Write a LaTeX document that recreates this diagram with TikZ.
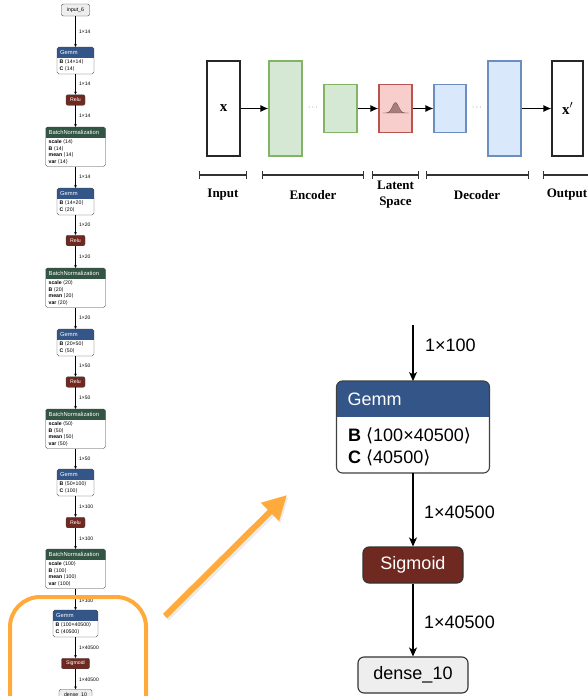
\documentclass[tikz,border=0pt]{standalone}
\usepackage{fontspec}
\setmainfont{Liberation Sans}
\newfontfamily\tnr{Liberation Serif}
\newfontfamily\dvs{DejaVu Sans}
\usetikzlibrary{arrows.meta}
\definecolor{gemmc}{RGB}{51,85,136}
\definecolor{normc}{RGB}{51,85,68}
\definecolor{actc}{RGB}{112,41,33}
\definecolor{ioc}{RGB}{238,238,238}
\definecolor{orangec}{RGB}{255,170,59}
\definecolor{encf}{HTML}{D5E8D4}
\definecolor{encd}{HTML}{82B366}
\definecolor{decf}{HTML}{DAE8FC}
\definecolor{decd}{HTML}{6C8EBF}
\definecolor{latf}{HTML}{F8CECC}
\definecolor{latd}{HTML}{B85450}
\definecolor{gaussf}{RGB}{170,125,125}
\definecolor{gaussd}{RGB}{120,70,70}
\newcommand\abra{{\dvs\char"27E8}}
\newcommand\aket{{\dvs\char"27E9}}
% layer node with coloured header: name, x, top, width, header h, body h, colour, title
\newcommand\netlayer[8]{%
  \node[minimum width=#4pt, minimum height=#5pt+#6pt, anchor=north, inner sep=0pt, outer sep=0pt] (#1) at (#2,#3) {};
  \begin{scope}
    \clip[rounded corners=\netR] (#1.north west) rectangle (#1.south east);
    \fill[white] (#1.north west) rectangle (#1.south east);
    \fill[#7] (#1.north west) rectangle ([yshift=-#5pt]#1.north east);
  \end{scope}
  \draw[rounded corners=\netR, line width=\netLW, draw=black!75] (#1.north west) rectangle (#1.south east);
  \node[anchor=west, text=white, font=\netTF, inner sep=0pt] (#1-t) at ([xshift=\netPad, yshift=-#5pt/2]#1.north west) {#8};
}
\newcommand\sgemm[5]{%
  \netlayer{#1}{75.5}{#2}{#5}{11}{16}{gemmc}{Gemm}
  \node[sbody] (#1-l1) at ({75.5-#5/2+2.5},{#2+16.8}) {\textbf{B} \abra#3\aket};
  \node[sbody] (#1-l2) at ({75.5-#5/2+2.5},{#2+23.8}) {\textbf{C} \abra#4\aket};
}
\newcommand\sbn[3]{%
  \netlayer{#1}{75.5}{#2}{60}{11}{28.5}{normc}{BatchNormalization}
  \node[sbody] (#1-l1) at (48.5,{#2+16.8}) {\textbf{scale} \abra#3\aket};
  \node[sbody] (#1-l2) at (48.5,{#2+23.3}) {\textbf{B} \abra#3\aket};
  \node[sbody] (#1-l3) at (48.5,{#2+29.8}) {\textbf{mean} \abra#3\aket};
  \node[sbody] (#1-l4) at (48.5,{#2+36.3}) {\textbf{var} \abra#3\aket};
}
\begin{document}
\begin{tikzpicture}[x=1pt,y=-1pt]
\tikzset{
  sedge/.style={-{Stealth[length=3pt,width=2.6pt]}, line width=0.4pt, black},
  slabel/.style={anchor=west, inner sep=0pt, font=\fontsize{5}{6}\selectfont},
  sbody/.style={anchor=base west, inner sep=0pt, font=\fontsize{5.2}{6}\selectfont},
  sact/.style={fill=actc, draw=black!75, line width=0.4pt, rounded corners=2pt, text=white, inner sep=0pt, font=\fontsize{5.2}{6}\selectfont, minimum height=10.5pt, minimum width=19pt},
  sio/.style={fill=ioc, draw=black!75, line width=0.4pt, rounded corners=2pt, inner sep=0pt, font=\fontsize{5.2}{6}\selectfont, minimum height=12pt},
  bedge/.style={-{Stealth[length=9pt,width=8pt,inset=2.5pt]}, line width=1.1pt, black},
  blabel/.style={anchor=west, inner sep=0pt, font=\fontsize{18}{20}\selectfont},
  bbody/.style={anchor=base west, inner sep=0pt, font=\fontsize{18}{20}\selectfont},
  bact/.style={fill=actc, draw=black!80, line width=1.1pt, rounded corners=6pt, text=white, inner sep=0pt, font=\fontsize{18}{20}\selectfont, minimum height=36pt, minimum width=100pt},
  bio/.style={fill=ioc, draw=black!80, line width=1.1pt, rounded corners=6pt, inner sep=0pt, font=\fontsize{18}{20}\selectfont, minimum height=36pt, minimum width=110pt},
  aebox/.style={line width=1.2pt, inner sep=0pt},
  aearrow/.style={-{Latex[length=8pt,width=7pt]}, line width=1.3pt, black},
  aebar/.style={{Bar[width=8pt]}-{Bar[width=8pt]}, line width=1.3pt, black!80},
  aelab/.style={font=\tnr\bfseries\fontsize{13}{16}\selectfont, align=center, inner sep=0pt},
  aedots/.style={font=\fontsize{8}{8}\selectfont, text=black!75, inner sep=0pt},
}
\useasboundingbox (0,0) rectangle (588,696);
\clip (0,0) rectangle (588,696);
\fill[white] (0,0) rectangle (588,696);

% ---------------- left column (small graph) ----------------
\def\netR{1.8pt}\def\netLW{0.4pt}\def\netTF{\fontsize{5.8}{7}\selectfont}\def\netPad{3pt}
\node[sio, minimum width=28pt] (in6) at (75.5,10) {input\_6};
\node[slabel] (e1) at (79,32) {1×14};
\sgemm{g1}{47}{14×14}{14}{37}
\node[slabel] (e2) at (79,84) {1×14};
\node[sact] (r1) at (75.5,100) {Relu};
\node[slabel] (e3) at (79,116) {1×14};
\sbn{b1}{127}{14}
\node[slabel] (e4) at (79,177) {1×14};
\sgemm{g2}{188}{14×20}{20}{37}
\node[slabel] (e5) at (79,225) {1×20};
\node[sact] (r2) at (75.5,240.5) {Relu};
\node[slabel] (e6) at (79,257) {1×20};
\sbn{b2}{268}{20}
\node[slabel] (e7) at (79,318) {1×20};
\sgemm{g3}{329}{20×50}{50}{37}
\node[slabel] (e8) at (79,366) {1×50};
\node[sact] (r3) at (75.5,382) {Relu};
\node[slabel] (e9) at (79,398) {1×50};
\sbn{b3}{409}{50}
\node[slabel] (e10) at (79,459) {1×50};
\sgemm{g4}{469}{50×100}{100}{37}
\node[slabel] (e11) at (79,507) {1×100};
\node[sact] (r4) at (75.5,522.5) {Relu};
\node[slabel] (e12) at (79,539) {1×100};
\sbn{b4}{549}{100}
\node[slabel] (e13) at (79,601) {1×100};
\sgemm{g5}{610}{100×40500}{40500}{45}
\node[slabel] (e14) at (79,648) {1×40500};
\node[sact, minimum width=28pt] (sg) at (75.5,663.5) {Sigmoid};
\node[slabel] (e15) at (79,680) {1×40500};
\node[sio, minimum width=33pt] (d10s) at (75.5,695.5) {dense\_10};
\foreach \a/\b in {in6/g1,g1/r1,r1/b1,b1/g2,g2/r2,r2/b2,b2/g3,g3/r3,r3/b3,b3/g4,g4/r4,r4/b4,b4/g5,g5/sg,sg/d10s}
  \draw[sedge] (\a) -- (\b);

% ---------------- autoencoder sketch ----------------
\node[aebox, draw=black!85, fill=white, minimum width=33pt, minimum height=95pt, font=\tnr\bfseries\fontsize{15}{15}\selectfont] (inp) at (223.5,108.5) {x};
\node[aebox, draw=encd, fill=encf, minimum width=33pt, minimum height=95pt] (enc1) at (285.5,108.5) {};
\node[aedots] (dots1) at (313,107.5) {$\cdots$};
\node[aebox, draw=encd, fill=encf, minimum width=33pt, minimum height=48pt] (enc2) at (340.5,108.5) {};
\node[aebox, draw=latd, fill=latf, minimum width=33pt, minimum height=48pt] (lat) at (395.5,108.5) {};
\fill[gaussf, draw=gaussd, line width=0.3pt] plot[domain=-13:13, samples=41, smooth] ({395.5+\x},{113-10.5*exp(-(\x/4.4)^2)}) -- cycle;
\node[aebox, draw=decd, fill=decf, minimum width=32pt, minimum height=48pt] (dec1) at (450,108.5) {};
\node[aedots] (dots2) at (477,107.5) {$\cdots$};
\node[aebox, draw=decd, fill=decf, minimum width=33pt, minimum height=95pt] (dec2) at (504.5,108.5) {};
\node[aebox, draw=black!85, fill=white, minimum width=31pt, minimum height=95pt, font=\tnr\bfseries\fontsize{15}{15}\selectfont] (outp) at (567.5,108.5) {x$'$};
\draw[aearrow] (inp) -- (enc1);
\draw[aearrow] (enc2) -- (lat);
\draw[aearrow] (lat) -- (dec1);
\draw[aearrow] (dec2) -- (outp);
\coordinate (bi1) at (199,175); \coordinate (bi2) at (247,175);
\coordinate (be1) at (262,175); \coordinate (be2) at (364,175);
\coordinate (bl1) at (372,175); \coordinate (bl2) at (419,175);
\coordinate (bd1) at (426,175); \coordinate (bd2) at (529,175);
\coordinate (bo1) at (543,175); \coordinate (bo2) at (600,175);
\draw[aebar] (bi1) -- (bi2);
\draw[aebar] (be1) -- (be2);
\draw[aebar] (bl1) -- (bl2);
\draw[aebar] (bd1) -- (bd2);
\draw[aebar] (bo1) -- (bo2);
\node[aelab] (tin) at (223,195) {Input};
\node[aelab] (tenc) at (313,195) {Encoder};
\node[aelab] (tlat) at (395.5,194.5) {Latent\\Space};
\node[aelab] (tdec) at (477,195) {Decoder};
\node[aelab] (tout) at (567,195) {Output};

% ---------------- enlarged view ----------------
\def\netR{6pt}\def\netLW{1.1pt}\def\netTF{\fontsize{18}{20}\selectfont}\def\netPad{11pt}
\coordinate (btop) at (413,325);
\netlayer{G}{413}{381}{153}{36}{56}{gemmc}{Gemm}
\node[bbody] (Gl1) at (348,441.5) {\textbf{B} \abra100×40500\aket};
\node[bbody] (Gl2) at (348,463.5) {\textbf{C} \abra40500\aket};
\node[blabel] (E1) at (425,345) {1×100};
\node[bact] (SG) at (413,565) {Sigmoid};
\node[blabel] (E2) at (424,512) {1×40500};
\node[bio] (D10) at (413,675) {dense\_10};
\node[blabel] (E3) at (424,622) {1×40500};
\draw[bedge] (btop) -- (G);
\draw[bedge] (G) -- (SG);
\draw[bedge] (SG) -- (D10);

% ---------------- highlight ----------------
\draw[orangec, line width=4pt, rounded corners=30pt] (10,597) rectangle (146,740);
\coordinate (oa1) at (165,616);
\coordinate (oa2) at (287,495);
\draw[black, opacity=0.08, line width=7pt, -{Triangle[length=24pt,width=24pt]}] ([shift={(1.5,2)}]oa1) -- ([shift={(1.5,2)}]oa2);
\draw[orangec, line width=6pt, -{Triangle[length=24pt,width=24pt]}] (oa1) -- (oa2);
\end{tikzpicture}
\end{document}
